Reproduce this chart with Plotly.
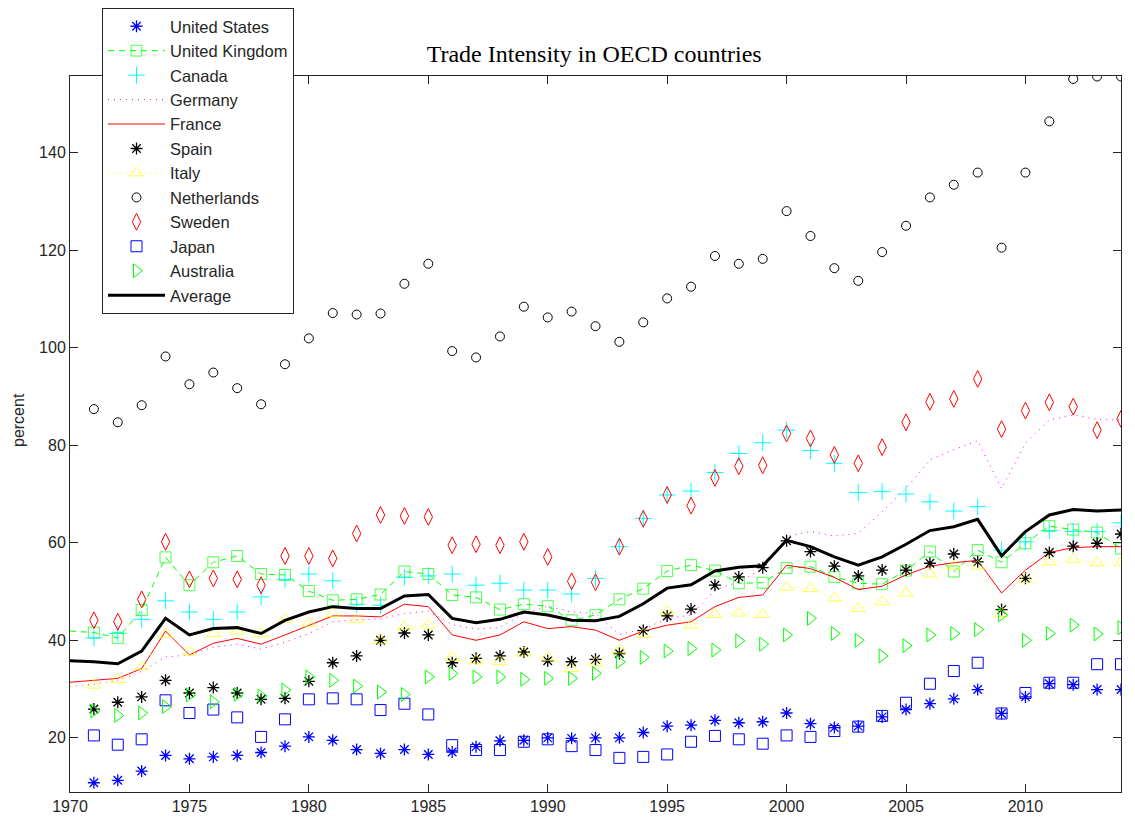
import plotly.graph_objects as go

years = list(range(1970, 2015))

# marker-only series start in 1971 (None for 1970)
us = [None, 10.8, 11.3, 13.2, 16.4, 15.7, 16.1, 16.4, 17.0, 18.3, 20.2,
      19.5, 17.6, 16.8, 17.6, 16.6, 17.1, 18.2, 19.4, 19.5, 20.0,
      19.9, 20.0, 20.0, 21.1, 22.4, 22.6, 23.6, 23.1, 23.3, 25.1,
      22.9, 22.1, 22.4, 24.3, 25.8, 27.0, 28.0, 29.9, 25.0, 28.4,
      31.1, 30.9, 29.9, 29.9]
uk = [41.9, 41.6, 40.5, 46.2, 57.0, 51.3, 56.0, 57.3, 53.6, 53.4,
      50.1, 48.2, 48.4, 49.4, 54.1, 53.6, 49.3, 48.8, 46.3, 47.4,
      47.0, 44.1, 45.2, 48.4, 50.6, 54.2, 55.4, 54.3, 51.7, 51.8,
      54.8, 55.1, 53.0, 51.7, 51.5, 54.3, 58.2, 54.1, 58.5, 56.0,
      59.9, 63.4, 62.7, 62.1, 58.8]
canada = [None, 40.5, 41.4, 44.3, 48.1, 45.8, 44.3, 45.8, 48.9, 52.5, 53.6,
          52.2, 47.4, 47.2, 52.9, 53.2, 53.6, 51.3, 51.7, 50.3, 50.3,
          49.5, 52.7, 59.2, 65.0, 69.8, 70.6, 74.4, 78.3, 80.5, 83.1,
          78.9, 76.3, 70.3, 70.5, 70.0, 68.4, 66.5, 67.4, 58.5, 60.2,
          62.5, 62.3, 62.3, 64.1]
germany = [30.5, 31.0, 31.8, 33.6, 36.6, 37.0, 38.6, 39.2, 38.2, 39.6,
           41.4, 43.8, 44.2, 44.4, 45.5, 46.0, 43.2, 42.3, 42.6, 45.5,
           47.0, 45.8, 45.5, 41.2, 42.3, 44.4, 45.2, 50.3, 52.0, 54.7,
           61.3, 62.3, 61.4, 61.9, 66.4, 71.1, 77.0, 79.1, 80.9, 71.1,
           80.4, 85.2, 86.2, 85.3, 85.2]
france = [31.4, 31.8, 32.2, 34.2, 41.9, 37.0, 39.4, 40.4, 39.2, 41.1,
          43.1, 45.0, 45.0, 44.8, 47.4, 46.9, 41.1, 40.0, 41.1, 43.8,
          42.4, 42.8, 42.1, 40.0, 41.9, 43.1, 43.8, 46.9, 48.8, 49.3,
          55.4, 54.7, 52.9, 50.4, 51.1, 53.4, 55.2, 55.9, 56.4, 49.7,
          54.4, 58.0, 59.0, 59.2, 59.2]
spain = [None, 25.9, 27.3, 28.4, 31.8, 29.2, 30.3, 29.2, 27.9, 28.1, 31.6,
         35.4, 36.8, 40.0, 41.5, 41.1, 35.4, 36.3, 36.8, 37.6, 35.8,
         35.6, 36.1, 37.3, 42.0, 45.0, 46.4, 51.3, 53.0, 54.9, 60.4,
         58.2, 55.2, 53.2, 54.4, 54.4, 55.8, 57.7, 56.1, 46.3, 52.7,
         58.0, 59.3, 59.9, 61.8]
italy = [30.5, 30.8, 32.0, 34.6, 41.2, 37.6, 41.4, 41.9, 41.4, 44.3,
         43.5, 45.5, 44.3, 40.0, 42.8, 43.1, 36.5, 35.8, 35.6, 37.4,
         36.5, 34.2, 35.4, 38.0, 41.2, 46.0, 43.1, 45.3, 45.6, 45.3,
         50.9, 50.6, 48.7, 46.5, 47.9, 49.7, 53.6, 55.2, 55.2, 45.5,
         52.5, 56.1, 56.6, 55.9, 55.9]
netherlands = [None, 87.4, 84.7, 88.2, 98.2, 92.5, 94.9, 91.7, 88.4, 96.6, 101.9,
               107.1, 106.8, 107.0, 113.1, 117.2, 99.3, 98.0, 102.3, 108.4, 106.2,
               107.4, 104.4, 101.2, 105.2, 110.1, 112.5, 118.8, 117.2, 118.2, 128.0,
               122.9, 116.3, 113.7, 119.6, 125.0, 130.8, 133.4, 135.9, 120.5, 135.9,
               146.4, 155.1, 155.6, 155.6]
sweden = [None, 44.1, 43.8, 48.4, 60.2, 52.5, 52.7, 52.5, 51.3, 57.3, 57.3,
          56.8, 61.9, 65.7, 65.5, 65.3, 59.5, 59.7, 59.5, 60.2, 57.1,
          52.1, 51.9, 59.2, 64.9, 69.8, 67.6, 73.3, 75.7, 75.9, 82.4,
          81.4, 78.0, 76.3, 79.6, 84.7, 88.9, 89.5, 93.6, 83.3, 87.1,
          88.8, 87.9, 83.1, 85.4]
japan = [None, 20.5, 18.6, 19.7, 27.7, 25.1, 25.8, 24.2, 20.2, 23.8, 27.9,
         28.1, 27.9, 25.7, 27.0, 24.8, 18.5, 17.5, 17.5, 19.2, 19.7,
         18.3, 17.5, 15.9, 16.1, 16.6, 19.2, 20.4, 19.7, 18.8, 20.5,
         20.2, 21.4, 22.3, 24.5, 27.2, 31.1, 33.7, 35.4, 25.0, 29.2,
         31.3, 31.3, 35.1, 35.1]
australia = [None, 25.5, 24.6, 25.1, 26.4, 28.8, 27.4, 28.9, 28.6, 29.8, 32.5,
             31.8, 30.6, 29.4, 28.9, 32.5, 33.2, 32.5, 32.5, 32.0, 32.2,
             32.2, 33.2, 35.6, 36.5, 37.8, 38.3, 38.0, 39.9, 39.2, 41.1,
             44.5, 41.4, 40.0, 36.8, 38.9, 41.1, 41.4, 42.2, 45.2, 40.0,
             41.4, 43.1, 41.3, 42.6]
average = [35.8, 35.6, 35.2, 37.8, 44.5, 41.1, 42.4, 42.6, 41.4, 44.1,
           45.8, 46.9, 46.5, 46.5, 49.1, 49.4, 44.5, 43.6, 44.3, 45.8,
           45.2, 44.1, 44.0, 44.9, 47.5, 50.7, 51.4, 54.2, 55.0, 55.3,
           60.5, 59.2, 57.1, 55.4, 57.1, 59.7, 62.5, 63.3, 64.8, 57.3,
           62.3, 65.7, 66.8, 66.5, 66.7]

BLUE, GREEN, CYAN, MAG, RED, BLACK, YEL = ("#0000ff", "#00ff00", "#00ffff",
                                          "#ff00ff", "#ff0000", "#000000", "#ffff00")


def mk(sym, color, size, lw=1):
    return dict(symbol=sym, size=size, color=color, line=dict(width=lw, color=color))


def marker_sizes(vals, size):
    return [0] + [size] * (len(vals) - 1)


fig = go.Figure()
fig.add_trace(go.Scatter(x=years, y=us, name="United States", mode="markers",
                         marker=mk("asterisk-open", BLUE, 10, 1.3)))
fig.add_trace(go.Scatter(x=years, y=uk, name="United Kingdom", mode="lines+markers",
                         line=dict(color=GREEN, width=1, dash="6px,5px"),
                         marker=dict(symbol="square-open", color=GREEN,
                                     size=marker_sizes(uk, 11),
                                     line=dict(width=1, color=GREEN))))
fig.add_trace(go.Scatter(x=years, y=canada, name="Canada", mode="markers",
                         marker=mk("cross-thin-open", CYAN, 12)))
fig.add_trace(go.Scatter(x=years, y=germany, name="Germany", mode="lines",
                         line=dict(color=MAG, width=1, dash="1px,5px")))
fig.add_trace(go.Scatter(x=years, y=france, name="France", mode="lines",
                         line=dict(color=RED, width=1)))
fig.add_trace(go.Scatter(x=years, y=spain, name="Spain", mode="markers",
                         marker=mk("asterisk-open", BLACK, 10, 1.3)))
fig.add_trace(go.Scatter(x=years, y=italy, name="Italy", mode="lines+markers",
                         line=dict(color=YEL, width=1, dash="1px,5px"),
                         marker=dict(symbol="triangle-up-open", color=YEL,
                                     size=marker_sizes(italy, 12),
                                     line=dict(width=1, color=YEL))))
fig.add_trace(go.Scatter(x=years, y=netherlands, name="Netherlands", mode="markers",
                         marker=mk("circle-open", BLACK, 9)))
fig.add_trace(go.Scatter(x=years, y=sweden, name="Sweden", mode="markers",
                         marker=mk("diamond-tall-open", RED, 12)))
fig.add_trace(go.Scatter(x=years, y=japan, name="Japan", mode="markers",
                         marker=mk("square-open", BLUE, 11)))
fig.add_trace(go.Scatter(x=years, y=australia, name="Australia", mode="markers",
                         marker=mk("triangle-right-open", GREEN, 12)))
fig.add_trace(go.Scatter(x=years, y=average, name="Average", mode="lines",
                         line=dict(color=BLACK, width=3)))

axis_common = dict(showline=True, linecolor="#262626", linewidth=1, mirror="ticks",
                   ticks="inside", ticklen=8, tickcolor="#262626", showgrid=False,
                   zeroline=False,
                   tickfont=dict(family="Liberation Sans", size=16, color="#262626"))

fig.update_layout(
    width=1135, height=819,
    paper_bgcolor="white", plot_bgcolor="white",
    margin=dict(l=70, r=14, t=76, b=27, autoexpand=False),
    title=dict(text="Trade Intensity in OECD countries", x=0.5235, xanchor="center",
               y=0.935, yanchor="middle",
               font=dict(family="Liberation Serif", size=24, color="black")),
    xaxis=dict(range=[1970, 2014], tick0=1970, dtick=5, **axis_common),
    yaxis=dict(range=[8.9, 155.7], tick0=20, dtick=20, **axis_common),
    legend=dict(x=(102 - 70) / 1051, xanchor="left", y=(792 - 8) / 716, yanchor="top",
                bgcolor="white", bordercolor="#262626", borderwidth=1,
                font=dict(family="Liberation Sans", size=16.5, color="#262626"),
                itemwidth=57, tracegroupgap=0),
    annotations=[dict(text="percent", textangle=-90, xref="paper", yref="paper",
                      x=(18 - 70) / 1051, y=(792 - 420) / 716, showarrow=False,
                      xanchor="center", yanchor="middle",
                      font=dict(family="Liberation Sans", size=16, color="#262626"))],
)

fig.write_html("out.html", config={"displayModeBar": False})

# remove the browser's default page margin so the figure sits at the window origin
with open("out.html", "r", encoding="utf-8") as f:
    html = f.read()
html = html.replace("<head>", "<head><style>html,body{margin:0;padding:0;overflow:hidden}</style>", 1)
with open("out.html", "w", encoding="utf-8") as f:
    f.write(html)
